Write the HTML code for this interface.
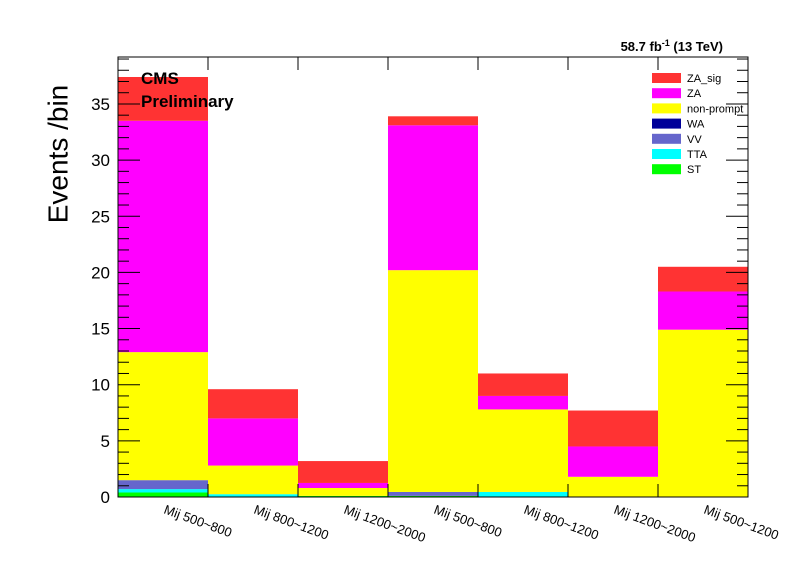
<!DOCTYPE html>
<html><head><meta charset="utf-8"><style>
body{margin:0;background:#fff}
svg{display:block;font-family:"Liberation Sans",Arial,sans-serif}
</style></head><body>
<svg id="chart" width="796" height="572" viewBox="0 0 796 572" xmlns="http://www.w3.org/2000/svg">
<rect x="0" y="0" width="796" height="572" fill="#fff"/>
<g id="bars"></g>
<g id="axes"></g>
<text x="60" y="154" font-size="28" transform="rotate(-90 60 154)" text-anchor="middle" dominant-baseline="middle">Events /bin</text>
<text x="141" y="84" font-size="17" font-weight="bold">CMS</text>
<text x="141" y="107" font-size="17" font-weight="bold">Preliminary</text>
<text x="723" y="51" font-size="13" font-weight="bold" text-anchor="end">58.7 fb<tspan dy="-5" font-size="9">-1</tspan><tspan dy="5"> (13 TeV)</tspan></text>
<g id="legend"></g>
</svg>
<script>
const categories=["Mij 500~800","Mij 800~1200","Mij 1200~2000","Mij 500~800","Mij 800~1200","Mij 1200~2000","Mij 500~1200"];
const processNames=["ST","TTA","VV","WA","non-prompt","ZA","ZA_sig"];
const processColors=["#00ff00","#00ffff","#6666cc","#000099","#ffff00","#ff00ff","#ff3333"];
const ST=[0.4,0.0,0.1,0.1,0.0,0.0,0.0];
const TTA=[0.3,0.25,0.0,0.0,0.45,0.0,0.0];
const VV=[0.8,0.0,0.0,0.35,0.0,0.0,0.0];
const WA=[0.0,0.0,0.0,0.0,0.0,0.0,0.0];
const nonPrompt=[11.4,2.55,0.7,19.75,7.35,1.8,14.9];
const ZA=[20.6,4.2,0.45,12.9,1.2,2.7,3.4];
const ZAsig=[3.9,2.6,1.95,0.8,2.0,3.2,2.2];
const yTicks=[0,5,10,15,20,25,30,35];
const series=[ST,TTA,VV,WA,nonPrompt,ZA,ZAsig];
const X0=118,X1=748,Y0=497,YT=57,YMAX=(497-57)/11.23;
const xs=i=>X0+(X1-X0)/categories.length*i;
const ys=v=>Y0-(Y0-YT)*v/YMAX;
const NS="http://www.w3.org/2000/svg";
function mk(t,a,p){const e=document.createElementNS(NS,t);for(const k in a)e.setAttribute(k,a[k]);p.appendChild(e);return e;}
const bars=document.getElementById('bars'),axes=document.getElementById('axes'),leg=document.getElementById('legend');
categories.forEach((c,i)=>{let cum=0;series.forEach((s,j)=>{const v=s[i];if(v<=0)return;
const r=mk('rect',{x:xs(i),y:ys(cum+v),width:xs(i+1)-xs(i),height:ys(cum)-ys(cum+v),fill:processColors[j]},bars);

cum+=v;});
const cx=xs(i)+(xs(i+1)-xs(i))/2;
const t=mk('text',{x:cx,y:Y0+16,'font-size':13,transform:`rotate(20 ${cx} ${Y0+16})`},axes);

t.textContent=c;});
const fr=mk('rect',{x:X0,y:YT,width:X1-X0,height:Y0-YT,fill:'none',stroke:'#000','stroke-width':1},axes);


for(let v=0;v<=YMAX;v+=1){const maj=v%5===0,L=maj?22:11;
mk('line',{x1:X0,x2:X0+L,y1:ys(v),y2:ys(v),stroke:'#000'},axes);
mk('line',{x1:X1,x2:X1-L,y1:ys(v),y2:ys(v),stroke:'#000'},axes);}
yTicks.forEach(v=>{const t=mk('text',{x:X0-8,y:ys(v)+6,'font-size':17,'text-anchor':'end'},axes);

t.textContent=v;});
for(let i=1;i<categories.length;i++){mk('line',{x1:xs(i),x2:xs(i),y1:Y0,y2:Y0-13,stroke:'#000'},axes);
mk('line',{x1:xs(i),x2:xs(i),y1:YT,y2:YT+13,stroke:'#000'},axes);}
const order=[6,5,4,3,2,1,0];
order.forEach((j,k)=>{const y=73+k*15.2;
const r=mk('rect',{x:652,y:y,width:29,height:10,fill:processColors[j]},leg);


const t=mk('text',{x:687,y:y+9,'font-size':11},leg);

t.textContent=processNames[j];});
</script>
</body></html>
